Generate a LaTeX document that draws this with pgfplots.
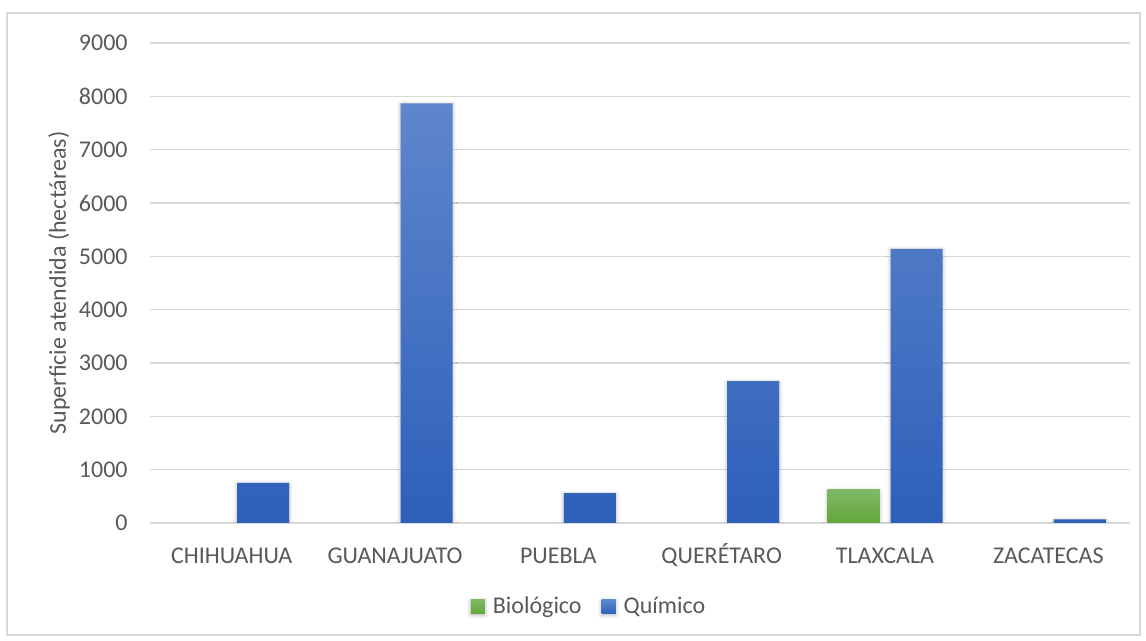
\documentclass[border=0pt]{standalone}
\usepackage{fontspec}
\setmainfont{Carlito}
\usepackage{pgfplots}
\pgfplotsset{compat=1.18}
\usetikzlibrary{shadows.blur}

\definecolor{txt}{HTML}{595959}
\definecolor{grd}{HTML}{D9D9D9}
\definecolor{bioTop}{HTML}{80B866}
\definecolor{bioBot}{HTML}{62A63A}
\definecolor{quiTop}{HTML}{5E86CC}
\definecolor{quiBot}{HTML}{2E60BA}

\begin{document}
\fontsize{12}{14}\selectfont
\begin{tikzpicture}
\useasboundingbox (-75pt,-59pt) rectangle (498pt,261.5pt);
\draw[grd, line width=0.75pt] (-71.5pt,-56pt) rectangle (495pt,255pt);
\begin{axis}[
    width=490pt, height=240pt, scale only axis,
    xmin=-0.5, xmax=5.5, ymin=0, ymax=9000,
    ytick={0,1000,...,9000},
    xtick={0,1,2,3,4,5},
    xticklabels={CHIHUAHUA, GUANAJUATO, PUEBLA, QUERÉTARO, TLAXCALA, ZACATECAS},
    ybar=5.5pt, bar width=26pt,
    axis line style={draw=none},
    tick style={draw=none},
    ymajorgrids,
    grid style={grd, line width=0.75pt},
    ticklabel style={text=txt, font=\fontsize{12}{14}\selectfont},
    /pgf/number format/assume math mode=true,
    scaled y ticks=false,
    yticklabel style={xshift=-7pt, /pgf/number format/1000 sep={}},
    xticklabel style={yshift=-4pt, text height=8pt, text depth=2pt},
    ylabel={Superficie atendida (hectáreas)},
    every axis y label/.style={at={(axis description cs:-0.0929,0.5)}, rotate=90, anchor=center, text=txt, font=\fontsize{12}{14}\selectfont},
    legend style={at={(axis description cs:0.449,-0.175)}, anchor=center,
        legend columns=-1, draw=none, fill=none, text=txt,
        font=\fontsize{12}{14}\selectfont,
        /tikz/every odd column/.append style={column sep=2pt},
        /tikz/every even column/.append style={column sep=8pt}},
    legend image code/.code={\fill[#1, draw=none] (0pt,-3.5pt) rectangle (7pt,3.5pt);},
    every axis plot/.append style={blur shadow={shadow xshift=0pt, shadow yshift=-0.5pt, shadow blur radius=2pt, shadow opacity=30}},
]
\addplot[draw=none, top color=bioTop, bottom color=bioBot] coordinates {
    (4,620)
};
\addplot[draw=none, top color=quiTop, bottom color=quiBot] coordinates {
    (0,750) (1,7870) (2,560) (3,2660) (4,5140) (5,70)
};
\legend{Biológico, Químico}
\end{axis}
\end{tikzpicture}
\end{document}
